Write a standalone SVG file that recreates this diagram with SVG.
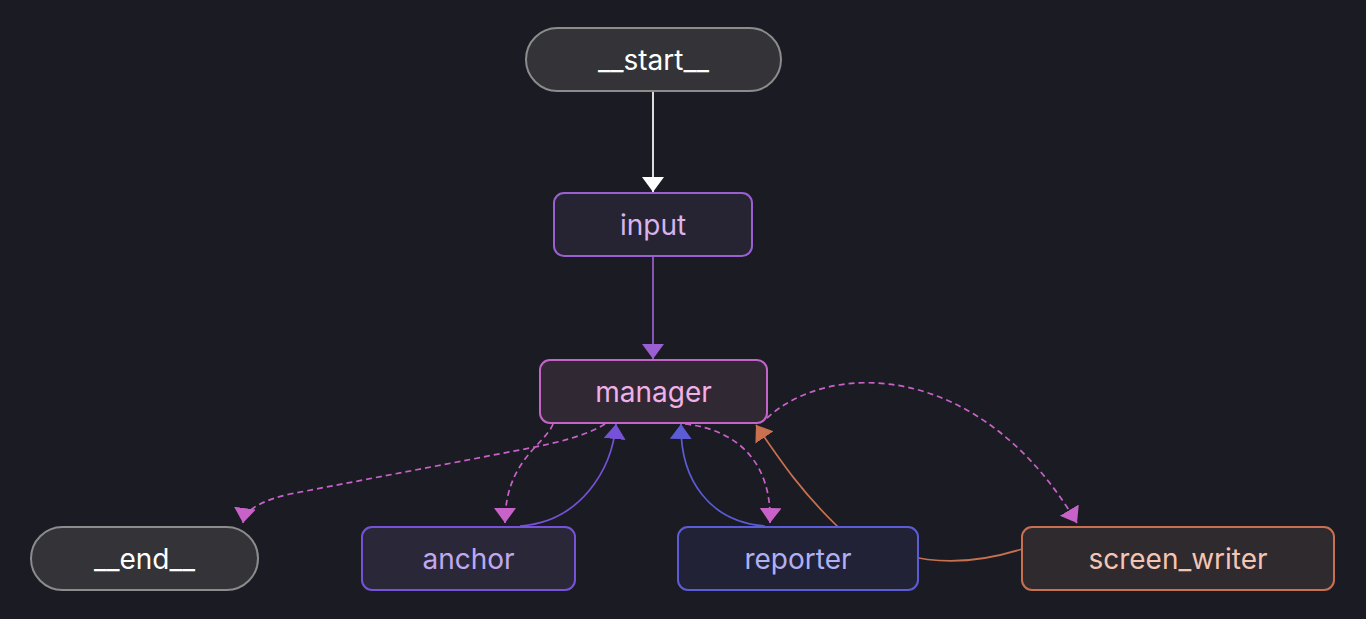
<svg xmlns="http://www.w3.org/2000/svg" width="1366" height="619" viewBox="0 0 1366 619">
<defs>
<style>
.lbl{font-family:Inter,"Noto Sans","Liberation Sans",sans-serif;font-size:28px;text-anchor:middle;dominant-baseline:central}
.e{fill:none;stroke-width:1.7}
.d{stroke-dasharray:6 4}
</style>
<marker id="aw" markerUnits="userSpaceOnUse" markerWidth="16" markerHeight="24" refX="15" refY="11" orient="auto"><path d="M0,0 L15,11 L0,22 z" fill="#ffffff"/></marker>
<marker id="ap" markerUnits="userSpaceOnUse" markerWidth="16" markerHeight="24" refX="15" refY="11" orient="auto"><path d="M0,0 L15,11 L0,22 z" fill="#9a5fd0"/></marker>
<marker id="am" markerUnits="userSpaceOnUse" markerWidth="16" markerHeight="24" refX="15" refY="11" orient="auto"><path d="M0,0 L15,11 L0,22 z" fill="#c862c8"/></marker>
<marker id="aa" markerUnits="userSpaceOnUse" markerWidth="16" markerHeight="24" refX="15" refY="11" orient="auto"><path d="M0,0 L15,11 L0,22 z" fill="#7652d8"/></marker>
<marker id="ar" markerUnits="userSpaceOnUse" markerWidth="16" markerHeight="24" refX="15" refY="11" orient="auto"><path d="M0,0 L15,11 L0,22 z" fill="#5c5cd6"/></marker>
<marker id="ao" markerUnits="userSpaceOnUse" markerWidth="16" markerHeight="24" refX="15" refY="11" orient="auto"><path d="M0,0 L15,11 L0,22 z" fill="#c8704f"/></marker>
</defs>
<rect width="1366" height="619" fill="#1b1c23"/>
<g id="connectors">
<path class="e" d="M653,91 L653,192" stroke="#ffffff" marker-end="url(#aw)"/>
<path class="e" d="M653,256 L653,359" stroke="#9a5fd0" marker-end="url(#ap)"/>
<path class="e d" d="M605,424 C585,436 560,442 530,448 L290,494 C265,500 245,508 243,523" stroke="#c862c8" marker-end="url(#am)"/>
<path class="e d" d="M553,424 C545,445 505,460 505,523" stroke="#c862c8" marker-end="url(#am)"/>
<path class="e" d="M520,526 C580,522 612,470 616,424" stroke="#7652d8" marker-end="url(#aa)"/>
<path class="e" d="M765,526 C710,522 680,480 681,424" stroke="#5c5cd6" marker-end="url(#ar)"/>
<path class="e d" d="M685,424 C740,430 772,465 770,523" stroke="#c862c8" marker-end="url(#am)"/>
<path class="e" d="M1022,549 C975,564 935,563 905,555 C870,545 850,540 836,525 C800,490 780,460 756,425" stroke="#c8704f" marker-end="url(#ao)"/>
<path class="e d" d="M767,418 C830,360 980,360 1077,523" stroke="#c862c8" marker-end="url(#am)"/>
</g>
<g id="start"><rect x="526" y="28" width="255" height="63" rx="31.5" fill="#333338" stroke="#8c8c8c" stroke-width="2"/><text class="lbl" x="653.5" y="60" fill="#ffffff">__start__</text></g>
<g id="input"><rect x="554" y="193" width="198" height="63" rx="10" fill="#262332" stroke="#9a5fd0" stroke-width="2"/><text class="lbl" x="653" y="225" fill="#d8b4ec">input</text></g>
<g id="manager"><rect x="540" y="360" width="227" height="63" rx="10" fill="#302833" stroke="#c464c8" stroke-width="2"/><text class="lbl" x="653.5" y="392" fill="#f0b0e8">manager</text></g>
<g id="end"><rect x="31" y="527" width="227" height="63" rx="31.5" fill="#333338" stroke="#8c8c8c" stroke-width="2"/><text class="lbl" x="144.5" y="559" fill="#ffffff">__end__</text></g>
<g id="anchor"><rect x="362" y="527" width="213" height="63" rx="10" fill="#2a2838" stroke="#7652d8" stroke-width="2"/><text class="lbl" x="468.5" y="559" fill="#c0a8f0">anchor</text></g>
<g id="reporter"><rect x="678" y="527" width="240" height="63" rx="10" fill="#222236" stroke="#5c5cd6" stroke-width="2"/><text class="lbl" x="798" y="559" fill="#b0b0f4">reporter</text></g>
<g id="screen_writer"><rect x="1022" y="527" width="312" height="63" rx="10" fill="#2f2a2e" stroke="#c8704f" stroke-width="2"/><text class="lbl" x="1178" y="559" fill="#f4c4b4">screen_writer</text></g>
</svg>
